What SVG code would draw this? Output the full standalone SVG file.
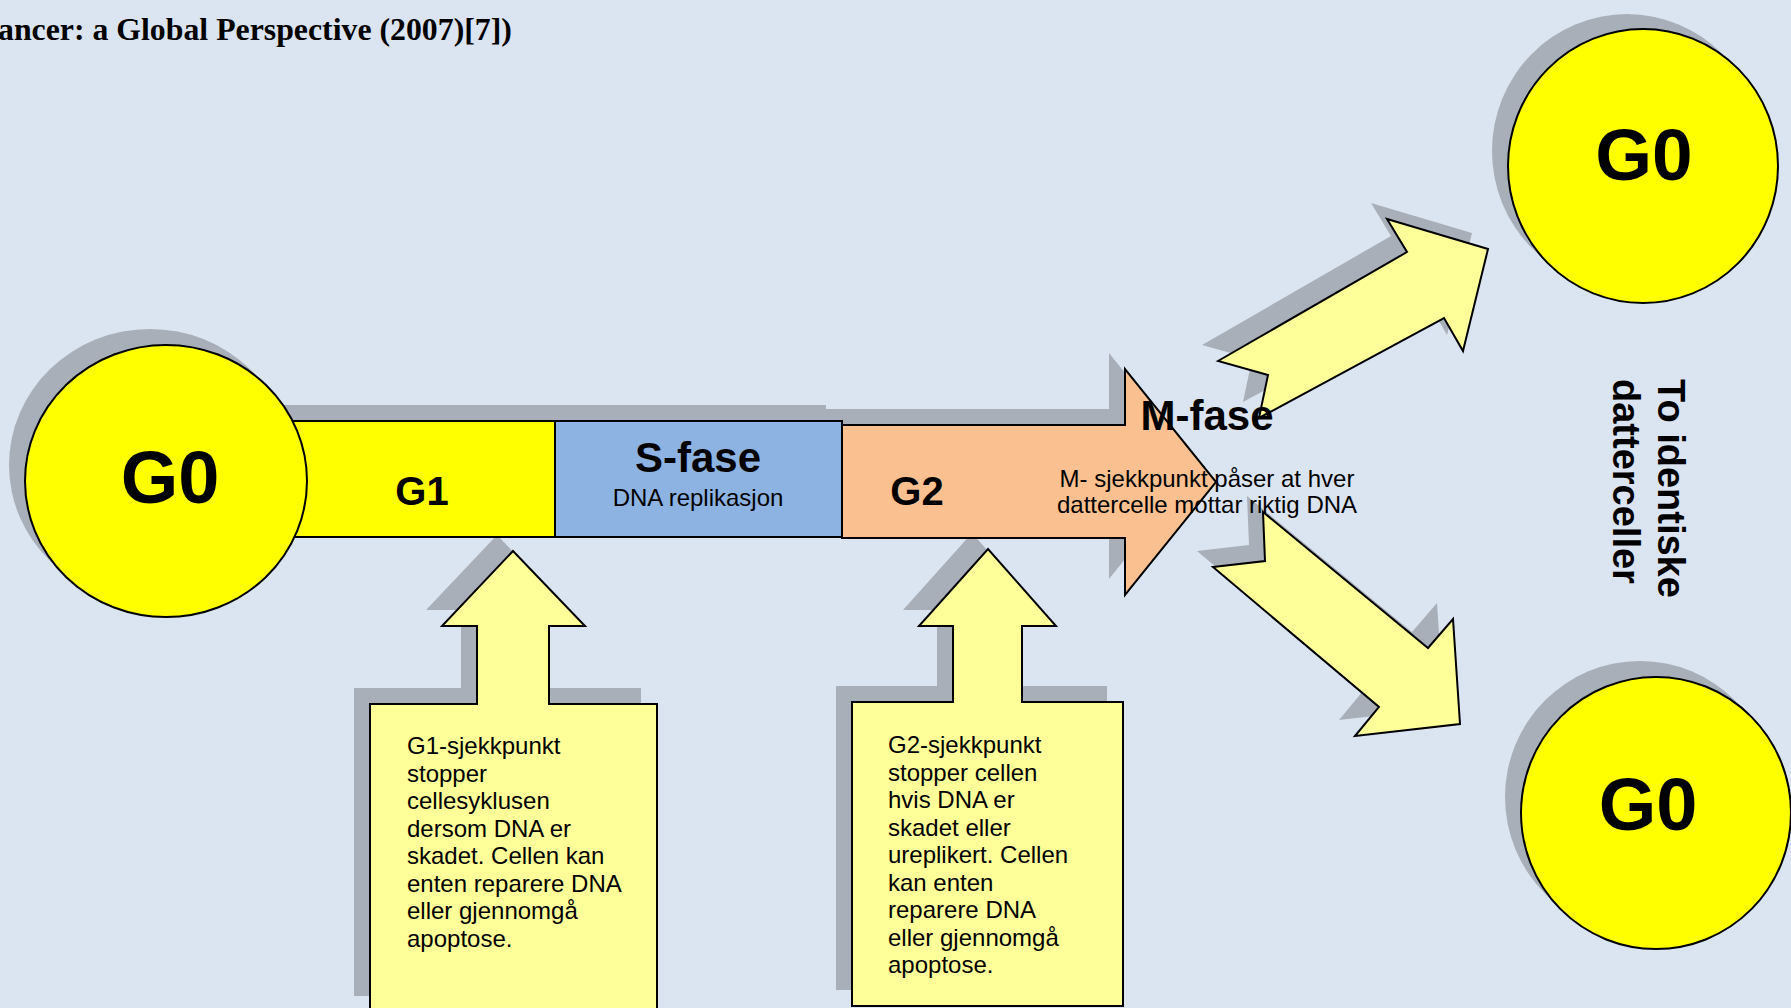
<svg xmlns="http://www.w3.org/2000/svg" width="1791" height="1008" viewBox="0 0 1791 1008">
<style>
.sh{fill:#a9afb8;stroke:none}
.ln{stroke:#000;stroke-width:2;stroke-linejoin:miter}
.yel{fill:#ffff00}
.lyel{fill:#ffff99}
.blue{fill:#8db3e2}
.peach{fill:#fac090}
.t{font-family:"Liberation Sans",Arial,sans-serif;fill:#000}
.b{font-weight:bold}
.m{text-anchor:middle}
.body{font-size:24px}
</style>
<rect width="1791" height="1008" fill="#dbe5f1"/>
<text x="-2" y="40" font-family="Liberation Serif, Times New Roman, serif" font-weight="bold" font-size="31.8">ancer: a Global Perspective (2007)[7])</text>

<g id="shadows">
<ellipse class="sh" cx="150" cy="465" rx="141" ry="136"/>
<rect class="sh" x="274" y="405" width="265" height="116"/>
<rect class="sh" x="539" y="405" width="287" height="116"/>
<polygon class="sh" points="826,409 1109,409 1109,353 1200,466 1109,579 1109,522 826,522"/>
<polygon class="sh" points="354,688 461,688 461,610 426,610 497,535 569,610 533,610 533,688 641,688 641,996 354,996"/>
<polygon class="sh" points="836,686 937,686 937,610 903,610 972,533 1040,610 1006,610 1006,686 1107,686 1107,990 836,990"/>
<ellipse class="sh" cx="1627" cy="151" rx="135" ry="137"/>
<ellipse class="sh" cx="1640" cy="797" rx="135" ry="136"/>
</g>

<g id="g1">
<rect class="yel ln" x="290" y="421" width="265" height="116"/>
<text class="t b m" x="422" y="505" font-size="40">G1</text>
</g>
<g id="g0-start">
<ellipse class="yel ln" cx="166" cy="481" rx="141" ry="136"/>
<text class="t b m" x="170" y="503" font-size="74">G0</text>
</g>
<g id="s-fase">
<rect class="blue ln" x="555" y="421" width="287" height="116"/>
<text class="t b m" x="698" y="472" font-size="42">S-fase</text>
<text class="t m" x="698" y="506" font-size="24">DNA replikasjon</text>
</g>
<g id="g2">
<polygon class="peach ln" points="842,425 1125,425 1125,369 1216,482 1125,595 1125,538 842,538"/>
<text class="t b m" x="917" y="505" font-size="40">G2</text>
</g>

<g id="g1-checkpoint">
<polygon class="lyel ln" points="370,704 477,704 477,626 442,626 513,551 585,626 549,626 549,704 657,704 657,1012 370,1012"/>
<text class="t body" x="407" y="754">G1-sjekkpunkt</text>
<text class="t body" x="407" y="781.5">stopper</text>
<text class="t body" x="407" y="809">cellesyklusen</text>
<text class="t body" x="407" y="836.5">dersom DNA er</text>
<text class="t body" x="407" y="864">skadet. Cellen kan</text>
<text class="t body" x="407" y="891.5">enten reparere DNA</text>
<text class="t body" x="407" y="919">eller gjennomgå</text>
<text class="t body" x="407" y="946.5">apoptose.</text>
</g>
<g id="g2-checkpoint">
<polygon class="lyel ln" points="852,702 953,702 953,626 919,626 988,549 1056,626 1022,626 1022,702 1123,702 1123,1006 852,1006"/>
<text class="t body" x="888" y="753">G2-sjekkpunkt</text>
<text class="t body" x="888" y="780.5">stopper cellen</text>
<text class="t body" x="888" y="808">hvis DNA er</text>
<text class="t body" x="888" y="835.5">skadet eller</text>
<text class="t body" x="888" y="863">ureplikert. Cellen</text>
<text class="t body" x="888" y="890.5">kan enten</text>
<text class="t body" x="888" y="918">reparere DNA</text>
<text class="t body" x="888" y="945.5">eller gjennomgå</text>
<text class="t body" x="888" y="973">apoptose.</text>
</g>

<g id="connectors">
<polygon class="sh" points="1202,345 1391,236 1371,203 1472,233 1447,335 1428,302 1243,402 1252,359"/>
<polygon class="lyel ln" points="1218,361 1407,252 1387,219 1488,249 1463,351 1444,318 1259,418 1268,375"/>
<polygon class="sh" points="1247,496 1412,632 1437,603 1444,708 1339,720 1363,691 1197,551 1249,545"/>
<polygon class="lyel ln" points="1263,512 1428,648 1453,619 1460,724 1355,736 1379,707 1213,567 1265,561"/>
</g>

<g id="m-fase">
<text class="t b m" x="1207" y="430" font-size="42">M-fase</text>
<text class="t m" x="1207" y="487" font-size="24">M- sjekkpunkt påser at hver</text>
<text class="t m" x="1207" y="513" font-size="24">dattercelle mottar riktig DNA</text>
</g>

<g id="g0-top">
<ellipse class="yel ln" cx="1643" cy="166" rx="135" ry="137"/>
<text class="t b m" x="1644" y="180" font-size="73">G0</text>
</g>
<g id="g0-bottom">
<ellipse class="yel ln" cx="1656" cy="813" rx="135" ry="136"/>
<text class="t b m" x="1648" y="830" font-size="74">G0</text>
</g>
<g id="label-daughters">
<text class="t b" font-size="38" transform="translate(1658,379) rotate(90)"><tspan x="0" y="0">To identiske</tspan><tspan x="0" y="45">datterceller</tspan></text>
</g>
</svg>
